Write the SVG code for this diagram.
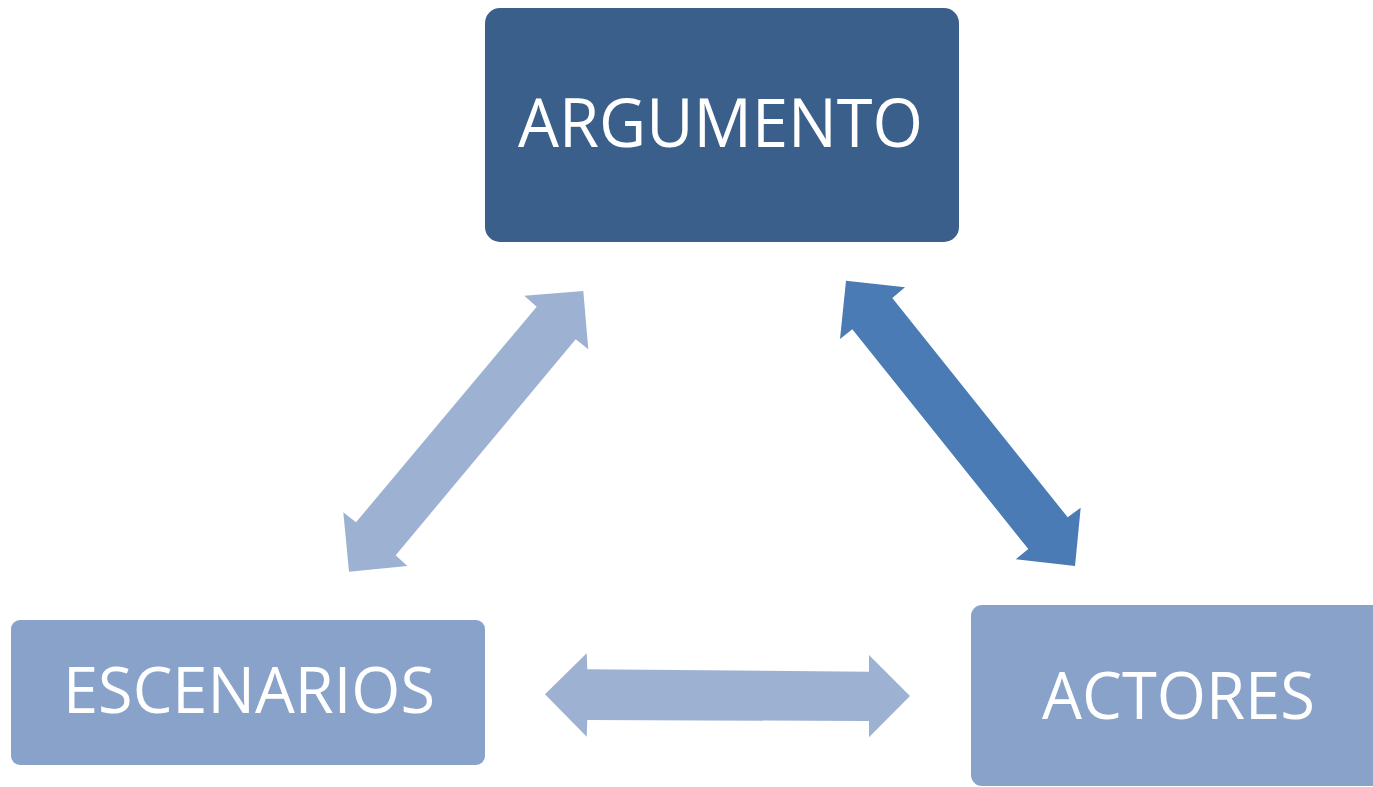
<svg xmlns="http://www.w3.org/2000/svg" width="1373" height="787" viewBox="0 0 1373 787">
<style>
.lbl{font-family:"Open Sans","Liberation Sans",sans-serif;fill:#ffffff;}
.light{fill:#9DB1D2;}
.mid{fill:#4A7BB4;}
</style>
<rect width="1373" height="787" fill="#ffffff"/>
<g id="connectors">
<polygon class="light" points="536.7,306.7 356,522.3 343.3,512.3 349,571.7 407.3,566 395.7,555.3 575.7,339.3 588.3,349.3 583.3,291 524.3,295.7"/>
<polygon class="mid" points="892.3,298 1067.7,517.3 1080.7,507.7 1075,566 1015.7,559.3 1028.3,549 852.3,329.3 840,339 846,280.7 905,287.3"/>
<polygon class="light" points="545,694.3 586.7,653.3 587.3,669.3 869,671.7 869,655 910,696 869,737.3 869,721 587.3,720 586.7,736.7"/>
</g>
<g id="argumento">
<rect x="485" y="8" width="474" height="234" rx="15" fill="#3A5F8B"/>
<text class="lbl" x="518" y="147" font-size="68" textLength="405" lengthAdjust="spacingAndGlyphs">ARGUMENTO</text>
</g>
<g id="escenarios">
<rect x="11" y="620" width="474" height="145" rx="9" fill="#88A2C9"/>
<text class="lbl" x="63" y="713" font-size="64" textLength="372" lengthAdjust="spacingAndGlyphs">ESCENARIOS</text>
</g>
<g id="actores">
<rect x="971" y="605" width="420" height="181" rx="11" fill="#88A2C9"/>
<text class="lbl" x="1042" y="719" font-size="66" textLength="273" lengthAdjust="spacingAndGlyphs">ACTORES</text>
</g>
</svg>
